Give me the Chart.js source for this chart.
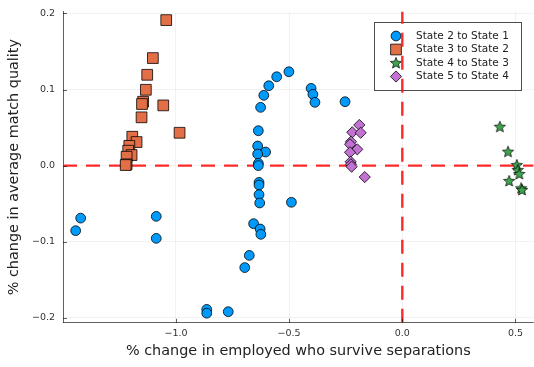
<!DOCTYPE html>
<html>
<head>
<meta charset="utf-8">
<script src="https://cdn.jsdelivr.net/npm/chart.js@4.4.1/dist/chart.umd.min.js"></script>
<style>
  html, body { margin: 0; padding: 0; background: #ffffff; }
  #wrap { width: 534px; height: 367px; }
</style>
</head>
<body>
<div id="wrap"><canvas id="c" width="534" height="367"></canvas></div>
<script>
// Series names
const seriesLabels = ['State 2 to State 1', 'State 3 to State 2', 'State 4 to State 3', 'State 5 to State 4'];

// State 2 -> State 1
const s21x = [-1.443, -1.421, -1.087, -1.087, -0.864, -0.864, -0.769,
              -0.501, -0.555, -0.590, -0.612, -0.626, -0.636, -0.639, -0.604, -0.639, -0.636, -0.636,
              -0.403, -0.395, -0.386, -0.253,
              -0.633, -0.633, -0.633, -0.630, -0.490, -0.657, -0.628, -0.625, -0.676, -0.696];
const s21y = [-0.0855, -0.069, -0.0667, -0.0956, -0.189, -0.194, -0.192,
              0.1234, 0.1168, 0.105, 0.0924, 0.0766, 0.0459, 0.0258, 0.0179, 0.0152, 0.003, 0.0,
              0.1016, 0.0937, 0.0832, 0.084,
              -0.022, -0.0255, -0.0382, -0.0491, -0.0482, -0.0763, -0.0833, -0.0903, -0.118, -0.134];

// State 3 -> State 2
const s32x = [-1.043, -1.102, -1.127, -1.133, -1.145, -1.150, -1.056, -1.152, -0.984,
              -1.193, -1.174, -1.206, -1.211, -1.196, -1.218, -1.218, -1.222];
const s32y = [0.1913, 0.1414, 0.1194, 0.0997, 0.084, 0.081, 0.0792, 0.0635, 0.0432,
              0.038, 0.031, 0.026, 0.0196, 0.0139, 0.0117, 0.0017, 0.0008];

// State 4 -> State 3
const s43x = [0.431, 0.467, 0.506, 0.510, 0.517, 0.472, 0.525, 0.529];
const s43y = [0.0511, 0.0183, 0.0008, -0.0058, -0.011, -0.0202, -0.0298, -0.032];

// State 5 -> State 4
const s54x = [-0.190, -0.221, -0.184, -0.227, -0.231, -0.199, -0.231, -0.228, -0.227, -0.224, -0.166];
const s54y = [0.0534, 0.0438, 0.0432, 0.0314, 0.028, 0.0214, 0.0175, 0.0051, 0.0017, -0.0014, -0.015];

// Axes
const xTickValues = [-1.0, -0.5, 0.0, 0.5];
const xTickLabels = ['\u22121.0', '\u22120.5', '0.0', '0.5'];
const yTickValues = [-0.2, -0.1, 0.0, 0.1, 0.2];
const yTickLabels = ['\u22120.2', '\u22120.1', '0.0', '0.1', '0.2'];
const xRange = [-1.499, 0.58];
const yRange = [-0.2066, 0.2026];
const xTitle = '% change in employed who survive separations';
const yTitle = '% change in average match quality';

// Zero reference lines
const refX = 0;
const refY = 0;

const FONT = 'DejaVu Sans';
const AXIS_COLOR = 'rgba(0,0,0,0.62)';
const STROKE = 'rgba(0,0,0,0.78)';

function pairs(xs, ys) { return xs.map((x, i) => ({ x: x, y: ys[i] })); }

// five-pointed star marker
function makeStar(fill) {
  const cv = document.createElement('canvas');
  cv.width = 14; cv.height = 14;
  const g = cv.getContext('2d');
  const cx = 7, cy = 7.3, R = 5.9, r = 2.6;
  g.beginPath();
  for (let i = 0; i < 10; i++) {
    const rad = (i % 2 === 0) ? R : r;
    const a = -Math.PI / 2 + i * Math.PI / 5;
    const px = cx + rad * Math.cos(a), py = cy + rad * Math.sin(a);
    if (i === 0) g.moveTo(px, py); else g.lineTo(px, py);
  }
  g.closePath();
  g.fillStyle = fill; g.fill();
  g.lineWidth = 0.9; g.strokeStyle = STROKE; g.stroke();
  return cv;
}
const starImg = makeStar('#3EA44E');

const pointSets = [
  { label: seriesLabels[0], data: pairs(s21x, s21y), pointStyle: 'circle', pointRadius: 4.9, backgroundColor: '#009AFA' },
  { label: seriesLabels[1], data: pairs(s32x, s32y), pointStyle: 'rect', pointRadius: 7.6, backgroundColor: '#E36F47' },
  { label: seriesLabels[2], data: pairs(s43x, s43y), pointStyle: starImg, pointRadius: 6, backgroundColor: '#3EA44E' },
  { label: seriesLabels[3], data: pairs(s54x, s54y), pointStyle: 'rectRot', pointRadius: 5.6, backgroundColor: '#C371D2' }
];

const datasets = pointSets.map(s => Object.assign({
  borderColor: STROKE, borderWidth: 1, pointHoverRadius: s.pointRadius, order: 0
}, s));

// dashed zero lines, drawn beneath the markers
const dashStyle = { showLine: true, pointRadius: 0, borderColor: 'rgba(255,20,20,0.9)', borderWidth: 2.4,
                    borderDash: [14, 9], order: 1 };
datasets.push(Object.assign({ label: 'vref', data: [{ x: refX, y: yRange[0] }, { x: refX, y: yRange[1] }] }, dashStyle));
datasets.push(Object.assign({ label: 'href', data: [{ x: xRange[0], y: refY }, { x: xRange[1], y: refY }] }, dashStyle));

// legend box inside the plot area, top right
const insetLegend = {
  id: 'insetLegend',
  beforeDatasetsDraw(chart) {
    const ctx = chart.ctx, a = chart.chartArea;
    const w = 146.7, h = 67.7;
    const x0 = a.right - 159.6, y0 = a.top + 10.8;
    ctx.save();
    ctx.fillStyle = '#ffffff';
    ctx.fillRect(x0, y0, w, h);
    ctx.strokeStyle = 'rgba(0,0,0,0.7)';
    ctx.lineWidth = 1;
    ctx.strokeRect(Math.round(x0) + 0.5, Math.round(y0) + 0.5, Math.round(w), Math.round(h));
    ctx.font = '10.5px "' + FONT + '"';
    ctx.textBaseline = 'middle';
    ctx.textAlign = 'left';
    pointSets.forEach((s, i) => {
      const cy = y0 + 13.7 + i * 13.5;
      ctx.fillStyle = s.backgroundColor;
      ctx.strokeStyle = STROKE;
      ctx.lineWidth = 1;
      Chart.helpers.drawPoint(ctx, { pointStyle: s.pointStyle, radius: s.pointRadius, rotation: 0, borderWidth: 1 }, x0 + 22, cy);
      ctx.fillStyle = '#222';
      ctx.fillText(s.label, x0 + 42, cy);
    });
    ctx.restore();
  }
};

// short tick marks pointing into the plot
const innerTicks = {
  id: 'innerTicks',
  afterDraw(chart) {
    const ctx = chart.ctx, a = chart.chartArea;
    const xs = chart.scales.x, ys = chart.scales.y;
    ctx.save();
    ctx.strokeStyle = AXIS_COLOR;
    ctx.lineWidth = 1;
    ctx.beginPath();
    xTickValues.forEach(v => {
      const px = Math.round(xs.getPixelForValue(v)) + 0.5;
      ctx.moveTo(px, a.bottom); ctx.lineTo(px, a.bottom - 4);
    });
    yTickValues.forEach(v => {
      const py = Math.round(ys.getPixelForValue(v)) + 0.5;
      ctx.moveTo(a.left, py); ctx.lineTo(a.left + 4, py);
    });
    ctx.stroke();
    ctx.restore();
  }
};

new Chart(document.getElementById('c'), {
  type: 'scatter',
  data: { datasets: datasets },
  plugins: [insetLegend, innerTicks],
  options: {
    responsive: false,
    animation: false,
    events: [],
    layout: { autoPadding: false, padding: { top: 11.5, right: 0.4, left: 0, bottom: 0 } },
    plugins: { legend: { display: false }, tooltip: { enabled: false } },
    scales: {
      x: {
        type: 'linear',
        min: xRange[0], max: xRange[1],
        afterBuildTicks: s => { s.ticks = xTickValues.map(v => ({ value: v })); },
        afterFit: s => { s.height = 44.2; s.paddingLeft = 0; s.paddingRight = 0; },
        ticks: {
          callback: (v, i) => xTickLabels[i],
          font: { family: FONT, size: 9.5 },
          color: '#333',
          padding: 5,
          maxRotation: 0,
          autoSkip: false
        },
        grid: { color: 'rgba(0,0,0,0.1)', lineWidth: 0.5, drawTicks: false },
        border: { display: true, color: AXIS_COLOR, width: 1 },
        title: { display: true, text: xTitle, font: { family: FONT, size: 14.4 }, color: '#222', padding: { top: 0, bottom: 7.4 } }
      },
      y: {
        type: 'linear',
        min: yRange[0], max: yRange[1],
        afterBuildTicks: s => { s.ticks = yTickValues.map(v => ({ value: v })); },
        afterFit: s => { s.width = 63; s.paddingTop = 0; s.paddingBottom = 0; },
        ticks: {
          callback: (v, i) => yTickLabels[i],
          font: { family: FONT, size: 9.5 },
          color: '#333',
          padding: 8,
          autoSkip: false
        },
        grid: { color: 'rgba(0,0,0,0.1)', lineWidth: 0.5, drawTicks: false },
        border: { display: true, color: AXIS_COLOR, width: 1 },
        title: { display: true, text: yTitle, font: { family: FONT, size: 14.4 }, color: '#222', padding: { top: 6, bottom: 0 } }
      }
    }
  }
});
</script>
</body>
</html>
